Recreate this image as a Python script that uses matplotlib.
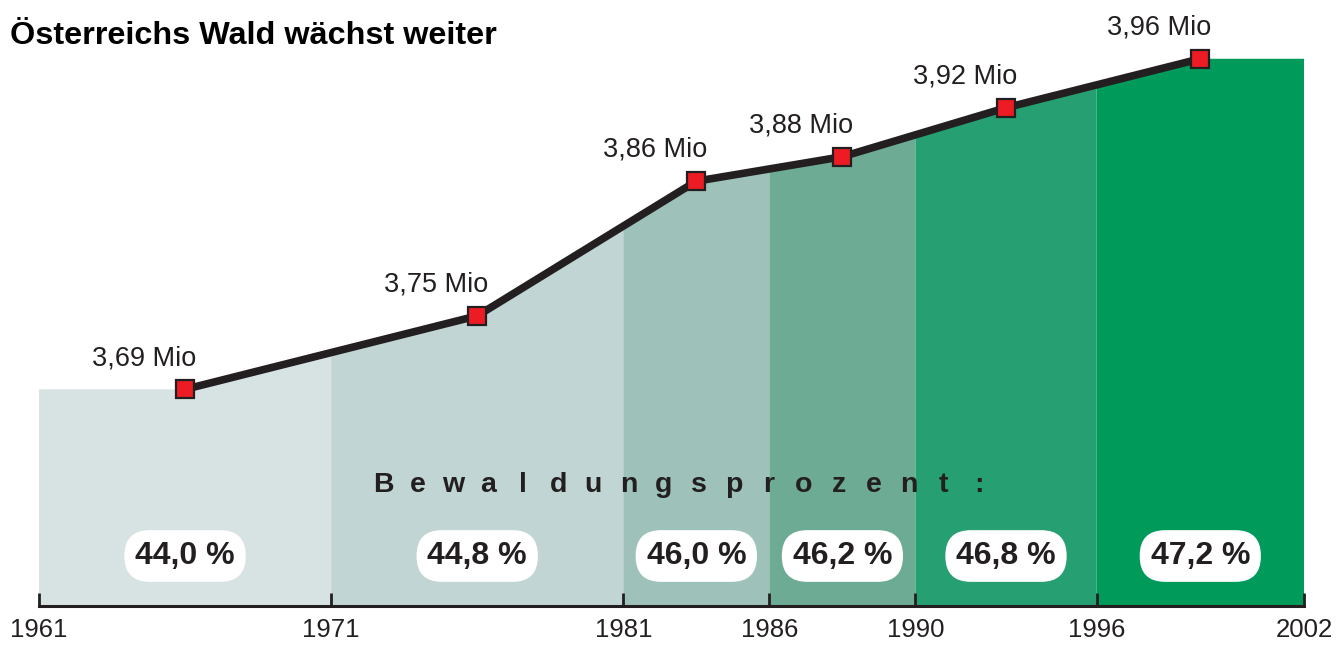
"""Österreichs Wald wächst weiter: forest area and forest share per inventory period."""

import matplotlib
matplotlib.use("Agg")
import matplotlib.pyplot as plt
from matplotlib.scale import FuncScale
import numpy as np

# data
PERIOD_BOUNDS = [1961, 1971, 1981, 1986, 1990, 1996, 2002]
FOREST_AREA_MIO_HA = [3.69, 3.75, 3.86, 3.88, 3.92, 3.96]
AREA_LABELS = ["3,69 Mio", "3,75 Mio", "3,86 Mio", "3,88 Mio", "3,92 Mio", "3,96 Mio"]
FOREST_SHARE = ["44,0 %", "44,8 %", "46,0 %", "46,2 %", "46,8 %", "47,2 %"]
TITLE = "Österreichs Wald wächst weiter"
ROW_LABEL = "Bewaldungsprozent:"

# layout: the original axis is drawn with uneven period widths
AXIS_SLOTS = [0, 10, 20, 25, 30, 36.2, 43.3]
BAND_COLORS = ["#d7e3e2", "#c1d6d4", "#9ec2ba", "#6eab94", "#26a073", "#009a5b"]
INK = "#231f20"
FONT = "Liberation Sans"


def forward(x):
    return np.interp(x, PERIOD_BOUNDS, AXIS_SLOTS)


def inverse(s):
    return np.interp(s, AXIS_SLOTS, PERIOD_BOUNDS)


fig = plt.figure(figsize=(13.42, 6.59), dpi=100)
ax = fig.add_axes([39 / 1342, 53 / 659, 1265 / 1342, 606 / 659])
ax.set_xscale(FuncScale(ax.xaxis, (forward, inverse)))
ax.set_xlim(PERIOD_BOUNDS[0], PERIOD_BOUNDS[-1])
ax.set_ylim(3.513, 4.008)

slots = np.array(AXIS_SLOTS, dtype=float)
mid_slots = (slots[:-1] + slots[1:]) / 2
mid_years = inverse(mid_slots)
line_slots = np.concatenate([[slots[0]], mid_slots, [slots[-1]]])
line_vals = np.concatenate([[FOREST_AREA_MIO_HA[0]], FOREST_AREA_MIO_HA, [FOREST_AREA_MIO_HA[-1]]])

for i, color in enumerate(BAND_COLORS):
    s = np.array([slots[i], mid_slots[i], slots[i + 1]])
    v = np.interp(s, line_slots, line_vals)
    ax.fill_between(inverse(s), 0, v, color=color, lw=0, zorder=1)

ax.plot(mid_years, FOREST_AREA_MIO_HA, color=INK, lw=5.5, solid_capstyle="butt", zorder=3)
ax.plot(mid_years, FOREST_AREA_MIO_HA, ls="none", marker="s", ms=13.5, mfc="#ed1c24",
        mec=INK, mew=1.6, zorder=4)

for x, y, label in zip(mid_years, FOREST_AREA_MIO_HA, AREA_LABELS):
    ax.annotate(label, (x, y), xytext=(-29.5, 22.5), textcoords="offset points",
                ha="center", va="center", fontsize=19.5, family=FONT, color=INK, zorder=5)

for x, label in zip(mid_years, FOREST_SHARE):
    ax.text(x, 0.0825, label, transform=ax.get_xaxis_transform(), ha="center", va="center",
            fontsize=23, fontweight="bold", family=FONT, color=INK, zorder=5,
            bbox=dict(boxstyle="round,pad=0.34,rounding_size=0.8", fc="white", ec="none"))

x0, x1 = 0.272, 0.743
for i, ch in enumerate(ROW_LABEL):
    ax.text(x0 + i * (x1 - x0) / (len(ROW_LABEL) - 1), 0.1997, ch, transform=ax.transAxes,
            ha="center", va="center", fontsize=20.5, fontweight="bold", family=FONT,
            color=INK, zorder=5)

for side in ("top", "right", "left"):
    ax.spines[side].set_visible(False)
ax.spines["bottom"].set_color(INK)
ax.spines["bottom"].set_linewidth(2.2)
ax.spines["bottom"].set_zorder(6)
ax.set_yticks([])
ax.set_xticks(PERIOD_BOUNDS)
ax.set_xticklabels([str(y) for y in PERIOD_BOUNDS], family=FONT, fontsize=18.5, color=INK)
ax.xaxis.set_minor_locator(matplotlib.ticker.NullLocator())
ax.tick_params(axis="x", direction="in", length=9.5, width=2, color=INK, pad=8.5)
ax.patch.set_visible(False)

fig.text(10 / 1342, 1 - 44 / 659, TITLE, ha="left", va="baseline", fontsize=23.3,
         fontweight="bold", family=FONT, color="black")

fig.savefig("out.png", dpi=100)
